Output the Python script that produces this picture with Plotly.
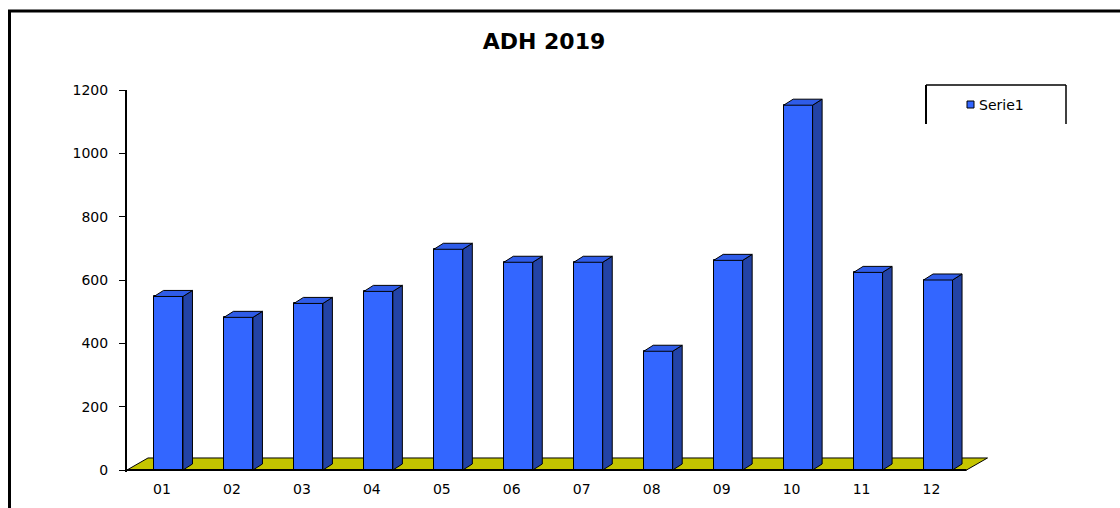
import plotly.graph_objects as go

# ---- data ----
months = ["01", "02", "03", "04", "05", "06", "07", "08", "09", "10", "11", "12"]
values = [548, 482, 526, 564, 697, 656, 656, 375, 662, 1152, 624, 600]
series_name = "Serie1"
title_text = "ADH 2019"
y_ticks = [0, 200, 400, 600, 800, 1000, 1200]

# ---- geometry / style ----
W, H = 1120, 508
L = 127
T = 90
PLOT_RIGHT = 991
PLOT_BOTTOM = 472
R_M = W - PLOT_RIGHT
B = H - PLOT_BOTTOM
PW, PH = W - L - R_M, H - T - B
XMIN, XMAX = -0.5, 11.85
YMIN, YMAX = -6.3, 1200

BAR_W, BAR_OFF = 0.414, -0.114      # front face width & offset (category units)
DX, DY = 0.136, 19                  # bar depth offset (x units, y units)
FLOOR_DX, FLOOR_DY = 0.30, 38       # floor depth
FRONT = "#3366FF"
SIDE = "#2343A6"
TOP = "#2F5CE8"
FLOOR = "#C4C400"


def px2x(px):
    """pixel x -> paper x"""
    return (px - L) / PW


def py2y(py):
    """pixel y -> paper y"""
    return (T + PH - py) / PH


xs = list(range(len(months)))

fig = go.Figure()

# front faces
fig.add_trace(go.Bar(
    x=xs, y=values, width=BAR_W, offset=BAR_OFF,
    marker=dict(color=FRONT, line=dict(color="black", width=1)),
    name=series_name, showlegend=False, hoverinfo="x+y",
))

# side and top faces
sx, sy, tx, ty = [], [], [], []
for i, v in zip(xs, values):
    xl = i + BAR_OFF
    xr = xl + BAR_W
    sx += [xr, xr + DX, xr + DX, xr, xr, None]
    sy += [0, DY, v + DY, v, 0, None]
    tx += [xl, xl + DX, xr + DX, xr, xl, None]
    ty += [v, v + DY, v + DY, v, v, None]

fig.add_trace(go.Scatter(x=sx, y=sy, mode="lines", fill="toself", fillcolor=SIDE,
                         line=dict(color="black", width=1), hoverinfo="skip", showlegend=False))
fig.add_trace(go.Scatter(x=tx, y=ty, mode="lines", fill="toself", fillcolor=TOP,
                         line=dict(color="black", width=1), hoverinfo="skip", showlegend=False))

n = len(months)
fx0, fx1 = -0.5, n - 0.5
floor_path = (f"M {fx0},0 L {fx1},0 L {fx1 + FLOOR_DX},{FLOOR_DY} "
              f"L {fx0 + FLOOR_DX},{FLOOR_DY} Z")

shapes = [
    dict(type="path", path=floor_path, xref="x", yref="y", layer="below",
         fillcolor=FLOOR, line=dict(color="black", width=1)),
    dict(type="line", xref="x", yref="y", x0=fx0, x1=fx1, y0=0, y1=0,
         line=dict(color="black", width=2), layer="above"),
    # outer border (top, left)
    dict(type="line", xref="paper", yref="paper", x0=px2x(8), x1=px2x(1120),
         y0=py2y(11), y1=py2y(11), line=dict(color="black", width=3)),
    dict(type="line", xref="paper", yref="paper", x0=px2x(9.5), x1=px2x(9.5),
         y0=py2y(10), y1=py2y(508), line=dict(color="black", width=3)),
    # legend box (open at bottom)
    dict(type="line", xref="paper", yref="paper", x0=px2x(926), x1=px2x(926),
         y0=py2y(85), y1=py2y(124), line=dict(color="black", width=2)),
    dict(type="line", xref="paper", yref="paper", x0=px2x(926), x1=px2x(1066),
         y0=py2y(85), y1=py2y(85), line=dict(color="black", width=1.5)),
    dict(type="line", xref="paper", yref="paper", x0=px2x(1066), x1=px2x(1066),
         y0=py2y(85), y1=py2y(124), line=dict(color="black", width=1.5)),
    dict(type="rect", xref="paper", yref="paper", x0=px2x(967), x1=px2x(974),
         y0=py2y(101), y1=py2y(108), fillcolor=FRONT, line=dict(color="black", width=1)),
]

annotations = [
    dict(text=series_name, xref="paper", yref="paper", x=px2x(977), y=py2y(104.5),
         xanchor="left", yanchor="middle", showarrow=False,
         font=dict(family="DejaVu Sans", size=14, color="black")),
]

fig.update_layout(
    width=W, height=H,
    margin=dict(l=L, r=R_M, t=T, b=B, pad=0),
    paper_bgcolor="white", plot_bgcolor="white",
    title=dict(text=f"<b>{title_text}</b>", xref="container", yref="container",
               x=544 / W, y=1 - 41 / H, xanchor="center", yanchor="middle",
               font=dict(family="DejaVu Sans", size=22, color="black")),
    xaxis=dict(range=[XMIN, XMAX], tickmode="array", tickvals=xs, ticktext=months,
               showgrid=False, zeroline=False, showline=False, ticks="",
               ticklabelstandoff=7,
               tickfont=dict(family="DejaVu Sans", size=14, color="black")),
    yaxis=dict(range=[YMIN, YMAX], tickmode="array", tickvals=y_ticks,
               showgrid=False, zeroline=False, showline=True, linecolor="black",
               linewidth=2, ticks="outside", ticklen=6, tickcolor="black",
               ticklabelstandoff=8,
               tickfont=dict(family="DejaVu Sans", size=14, color="black")),
    shapes=shapes, annotations=annotations,
    showlegend=False, bargap=0,
)

fig.write_html(
    "out.html",
    config={"displayModeBar": False},
    post_script=("document.documentElement.style.margin='0';"
                 "document.body.style.margin='0';"
                 "document.documentElement.style.overflow='hidden';"),
)
